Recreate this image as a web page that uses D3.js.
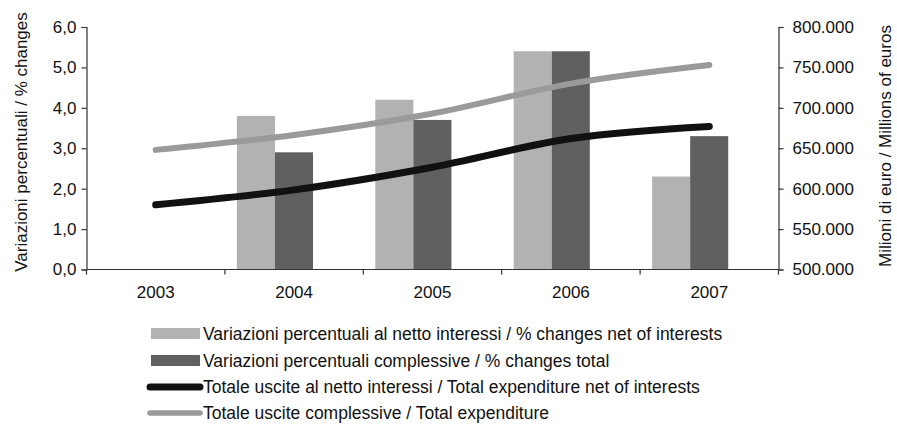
<!DOCTYPE html>
<html>
<head>
<meta charset="utf-8">
<script src="https://cdn.jsdelivr.net/npm/d3@7"></script>
<style>
  body { margin: 0; background: #fff; }
  svg text { font-family: "Liberation Sans", Arial, sans-serif; fill: #111; }
</style>
</head>
<body>
<div class="svg"></div>
<script>
// data
var years = ['2003', '2004', '2005', '2006', '2007'];
var pctNet = [null, 3.8, 4.2, 5.4, 2.3];     // % changes net of interests
var pctTotal = [null, 2.9, 3.7, 5.4, 3.3];   // % changes total
var expNet = [580000, 598500, 626500, 662000, 677000];    // total expenditure net of interests
var expTotal = [648000, 666500, 693000, 730000, 753000];  // total expenditure
var leftTicks = [0, 1, 2, 3, 4, 5, 6];
var rightTicks = [500000, 550000, 600000, 650000, 700000, 750000, 800000];
var legendLabels = [
    'Variazioni percentuali al netto interessi / % changes net of interests',
    'Variazioni percentuali complessive / % changes total',
    'Totale uscite al netto interessi / Total expenditure net of interests',
    'Totale uscite complessive / Total expenditure'
];

var width = 897, height = 425;
// plot box (don't call these top/left, window.top is read-only)
var pL = 86.5, pR = 778.5, pT = 27, pB = 269.5;
var colLight = '#b2b2b2', colDark = '#606060', colBlack = '#111111', colGrey = '#9a9a9a';

var it = d3.formatLocale({ decimal: ',', thousands: '.', grouping: [3], currency: ['', '€'] });

var svg = d3.select('div.svg')
    .append('svg')
    .attr('width', width)
    .attr('height', height)

var x = d3.scaleBand()
    .domain(years)
    .range([pL, pR])

// the bar pair sits left of the band centre in the original
var xInner = d3.scaleBand()
    .domain(['net', 'total'])
    .range([12, 12 + x.bandwidth() * 0.55])

var yL = d3.scaleLinear()
    .domain([0, 6])
    .range([pB, pT])

var yR = d3.scaleLinear()
    .domain([500000, 800000])
    .range([pB, pT])

// bars
var bars = svg.append('g')
var series = [
    { key: 'net', values: pctNet, color: colLight },
    { key: 'total', values: pctTotal, color: colDark }
];
series.forEach(function (s) {
    bars.selectAll('.b-' + s.key)
        .data(years.map(function (yr, i) { return { year: yr, v: s.values[i] }; }).filter(d => d.v != null))
        .enter()
        .append('rect')
        .attr('class', 'b-' + s.key)
        .attr('x', d => x(d.year) + xInner(s.key))
        .attr('y', d => yL(d.v))
        .attr('width', xInner.bandwidth())
        .attr('height', d => yL(0) - yL(d.v))
        .attr('fill', s.color)
});

// axes
var axL = svg.append('g')
    .attr('transform', 'translate(' + pL + ',0)')
    .call(d3.axisLeft(yL).tickValues(leftTicks).tickSizeOuter(0).tickSize(5).tickPadding(5).tickFormat(it.format('.1f')))
var axR = svg.append('g')
    .attr('transform', 'translate(' + pR + ',0)')
    .call(d3.axisRight(yR).tickValues(rightTicks).tickSizeOuter(0).tickSize(5).tickPadding(9).tickFormat(it.format(',.0f')))
;[axL, axR].forEach(function (a) {
    a.selectAll('path, line').attr('stroke', '#333').attr('stroke-width', 1.2)
    a.selectAll('text').attr('font-family', null).style('font-size', '17px').attr('fill', '#111')
});

// category axis: ticks on band edges, labels in the middle
var xa = svg.append('g')
xa.append('line')
    .attr('x1', pL).attr('x2', pR)
    .attr('y1', pB).attr('y2', pB)
    .attr('stroke', '#333').attr('stroke-width', 1.2)
xa.selectAll('.xt')
    .data(years.concat(['end']))
    .enter()
    .append('line')
    .attr('class', 'xt')
    .attr('x1', d => d == 'end' ? pR : x(d))
    .attr('x2', d => d == 'end' ? pR : x(d))
    .attr('y1', pB).attr('y2', pB + 5)
    .attr('stroke', '#333').attr('stroke-width', 1.2)
xa.selectAll('.xl')
    .data(years)
    .enter()
    .append('text')
    .attr('class', 'xl')
    .attr('x', d => x(d) + x.bandwidth() / 2)
    .attr('y', 298)
    .attr('text-anchor', 'middle')
    .style('font-size', '17px')
    .text(d => d)

// axis titles
svg.append('text')
    .attr('transform', 'translate(27,142) rotate(-90)')
    .attr('text-anchor', 'middle')
    .style('font-size', '17px')
    .text('Variazioni percentuali / % changes')
svg.append('text')
    .attr('transform', 'translate(891,146) rotate(-90)')
    .attr('text-anchor', 'middle')
    .style('font-size', '17px')
    .text('Milioni di euro / Millions of euros')

// lines (excel-style smoothed)
var line = d3.line()
    .x((d, i) => x(years[i]) + x.bandwidth() / 2)
    .y(d => yR(d))
    .curve(d3.curveCatmullRom.alpha(0.5))

svg.append('path')
    .datum(expTotal)
    .attr('d', line)
    .attr('fill', 'none')
    .attr('stroke', colGrey)
    .attr('stroke-width', 6)
    .attr('stroke-linecap', 'round')
svg.append('path')
    .datum(expNet)
    .attr('d', line)
    .attr('fill', 'none')
    .attr('stroke', colBlack)
    .attr('stroke-width', 7)
    .attr('stroke-linecap', 'round')

// legend
var legY = [333.5, 360.5, 387, 413];
var leg = svg.append('g')
leg.selectAll('rect')
    .data([colLight, colDark])
    .enter()
    .append('rect')
    .attr('x', 151)
    .attr('y', (d, i) => legY[i] - 5.5)
    .attr('width', 49)
    .attr('height', 11)
    .attr('fill', d => d)
leg.selectAll('line')
    .data([{ c: colBlack, w: 7 }, { c: colGrey, w: 5.5 }])
    .enter()
    .append('line')
    .attr('x1', 150).attr('x2', 200)
    .attr('y1', (d, i) => legY[i + 2]).attr('y2', (d, i) => legY[i + 2])
    .attr('stroke', d => d.c)
    .attr('stroke-width', d => d.w)
    .attr('stroke-linecap', 'round')
leg.selectAll('text')
    .data(legendLabels)
    .enter()
    .append('text')
    .attr('x', 203)
    .attr('y', (d, i) => legY[i] + 6)
    .style('font-size', '17.5px')
    .text(d => d)
</script>
</body>
</html>
